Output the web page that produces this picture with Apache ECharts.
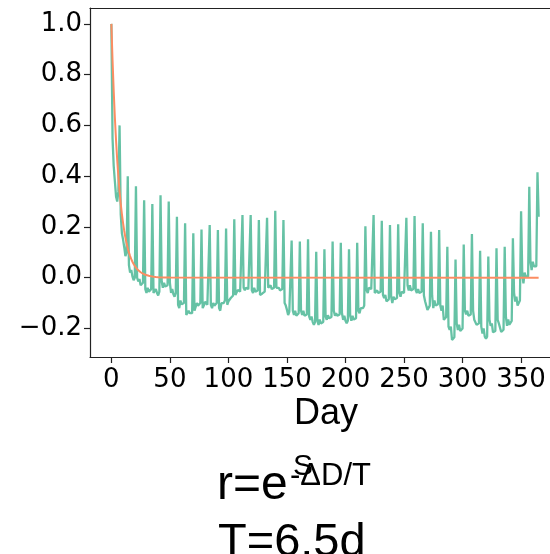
<!DOCTYPE html>
<html>
<head>
<meta charset="utf-8">
<script src="https://cdn.jsdelivr.net/npm/echarts@6/dist/echarts.min.js"></script>
<style>
html,body{margin:0;padding:0;background:#fff;}
#chart{width:550px;height:554px;}
</style>
</head>
<body>
<div id="chart"></div>
<script>
// autocorrelation by day lag (day = index), one row per week
const acf = [
  1.0, 0.55, 0.44, 0.38, 0.32, 0.30, 0.34,
  0.60, 0.25, 0.175, 0.15, 0.12, 0.085, 0.10,
  0.40, 0.05, 0.02, 0.03, 0.005, -0.01, 0.0,
  0.36, 0.0, -0.015, -0.005, -0.03, -0.035, -0.02,
  0.305, -0.045, -0.06, -0.04, -0.055, -0.06, -0.045,
  0.29, -0.06, -0.065, -0.045, -0.06, -0.07, -0.055,
  0.325, -0.015, -0.04, -0.02, -0.035, -0.04, -0.03,
  0.30, -0.02, -0.06, -0.045, -0.065, -0.075, -0.06,
  0.24, -0.107, -0.12, -0.09, -0.105, -0.107, -0.10,
  0.214, -0.147, -0.15, -0.13, -0.14, -0.147, -0.14,
  0.175, -0.13, -0.133, -0.10, -0.11, -0.107, -0.10,
  0.19, -0.12, -0.11, -0.095, -0.10, -0.107, -0.10,
  0.207, -0.107, -0.12, -0.10, -0.11, -0.113, -0.10,
  0.188, -0.12, -0.13, -0.10, -0.10, -0.10, -0.09,
  0.194, -0.107, -0.093, -0.093, -0.08, -0.08, -0.07,
  0.23, -0.068, -0.075, -0.048, -0.055, -0.055, -0.05,
  0.247, -0.04, -0.05, -0.04, -0.045, -0.045, -0.04,
  0.247, -0.05, -0.06, -0.04, -0.055, -0.055, -0.05,
  0.227, -0.068, -0.075, -0.062, -0.06, -0.055, -0.05,
  0.236, -0.04, -0.045, -0.03, -0.045, -0.045, -0.04,
  0.264, -0.04, -0.045, -0.04, -0.05, -0.05, -0.045,
  0.227, -0.10, -0.11, -0.127, -0.147, -0.135, -0.13,
  0.146, -0.13, -0.147, -0.13, -0.15, -0.15, -0.14,
  0.142, -0.13, -0.147, -0.13, -0.15, -0.15, -0.145,
  0.151, -0.153, -0.166, -0.153, -0.175, -0.186, -0.175,
  0.102, -0.17, -0.186, -0.165, -0.18, -0.186, -0.175,
  0.112, -0.153, -0.166, -0.148, -0.16, -0.16, -0.155,
  0.142, -0.13, -0.15, -0.14, -0.15, -0.15, -0.145,
  0.138, -0.14, -0.166, -0.15, -0.17, -0.18, -0.17,
  0.112, -0.15, -0.17, -0.15, -0.165, -0.165, -0.16,
  0.138, -0.13, -0.14, -0.12, -0.12, -0.12, -0.11,
  0.203, -0.05, -0.06, -0.04, -0.045, -0.045, -0.04,
  0.247, -0.06, -0.065, -0.05, -0.06, -0.06, -0.055,
  0.224, -0.068, -0.08, -0.068, -0.093, -0.09, -0.085,
  0.207, -0.075, -0.10, -0.075, -0.085, -0.085, -0.08,
  0.21, -0.06, -0.075, -0.055, -0.06, -0.06, -0.055,
  0.236, -0.03, -0.05, -0.03, -0.05, -0.05, -0.045,
  0.243, -0.05, -0.06, -0.045, -0.06, -0.06, -0.055,
  0.214, -0.07, -0.093, -0.10, -0.127, -0.12, -0.11,
  0.181, -0.07, -0.12, -0.09, -0.11, -0.11, -0.105,
  0.188, -0.11, -0.13, -0.11, -0.166, -0.16, -0.155,
  0.122, -0.193, -0.206, -0.193, -0.245, -0.25, -0.235,
  0.072, -0.18, -0.206, -0.185, -0.21, -0.21, -0.20,
  0.131, -0.13, -0.145, -0.13, -0.15, -0.15, -0.145,
  0.172, -0.13, -0.166, -0.16, -0.186, -0.185, -0.18,
  0.106, -0.193, -0.22, -0.20, -0.232, -0.24, -0.232,
  0.083, -0.166, -0.19, -0.18, -0.215, -0.22, -0.21,
  0.116, -0.166, -0.18, -0.175, -0.214, -0.21, -0.205,
  0.122, -0.153, -0.19, -0.165, -0.185, -0.18, -0.17,
  0.155, -0.06, -0.094, -0.075, -0.11, -0.105, -0.09,
  0.262, 0.017, -0.022, 0.02, 0.005, 0.0, 0.005,
  0.358, 0.063, 0.03, 0.063, 0.045, 0.04, 0.045,
  0.415, 0.24
];

// exponential fit r = e^(-ΔD/T), T = 6.5 d
const fitDays = [0,1,2,3,4,5,6,7,8,9,10,11,12,13,14,15,16,17,18,19,20,21,22,23,24,25,26,27,28,29,30,32,34,36,38,40,45,50,365];
const fitValues = [1.0,0.8574,0.7351,0.6303,0.5404,0.4633,0.3973,0.3406,0.2921,0.2504,0.2147,0.1841,0.1578,0.1353,0.1160,0.0995,0.0853,0.0731,0.0627,0.0538,0.0461,0.0395,0.0339,0.0291,0.0249,0.0214,0.0183,0.0157,0.0135,0.0115,0.0099,0.0073,0.0054,0.0039,0.0029,0.0021,0.0010,0.0005,0.0];

const xTicks = [0, 50, 100, 150, 200, 250, 300, 350];
const yTicks = [-0.2, 0.0, 0.2, 0.4, 0.6, 0.8, 1.0];

const chart = echarts.init(document.getElementById('chart'), null, {renderer: 'canvas'});
const tickFont = 'DejaVu Sans';
const textFont = '"Liberation Sans", Arial, sans-serif';
const spine = {color: '#222', width: 1.2};

chart.setOption({
  animation: false,
  backgroundColor: '#fff',
  grid: {left: 90, top: 8, right: 0, height: 349, show: false},
  xAxis: [{
    type: 'value', min: -18.25, max: 374.7,
    axisLine: {show: true, onZero: false, lineStyle: spine},
    axisTick: {show: true, length: 6, lineStyle: spine, customValues: xTicks},
    axisLabel: {show: true, customValues: xTicks, margin: 10, color: '#000', fontFamily: tickFont, fontSize: 26,
      formatter: v => String(Math.round(v))},
    splitLine: {show: false}
  }, {
    type: 'value', position: 'top', min: -18.25, max: 374.7,
    axisLine: {show: true, onZero: false, lineStyle: spine},
    axisTick: {show: false}, axisLabel: {show: false}, splitLine: {show: false}
  }],
  yAxis: {
    type: 'value', min: -0.3125, max: 1.0625,
    axisLine: {show: true, onZero: false, lineStyle: spine},
    axisTick: {show: true, length: 6, lineStyle: spine, customValues: yTicks},
    axisLabel: {show: true, customValues: yTicks, margin: 8, color: '#000', fontFamily: tickFont, fontSize: 26,
      formatter: v => (Math.round(v * 10) / 10).toFixed(1).replace('-', '\u2212')},
    splitLine: {show: false}
  },
  series: [
    {type: 'line', xAxisIndex: 0, data: acf.map((v, i) => [i, v]), showSymbol: false, symbol: 'none',
      lineStyle: {color: '#66c2a5', width: 2.3}, clip: true, z: 2},
    {type: 'line', xAxisIndex: 0, data: fitDays.map((d, i) => [d, fitValues[i]]), showSymbol: false, symbol: 'none',
      lineStyle: {color: '#fc8d62', width: 2}, clip: true, z: 3}
  ],
  graphic: [
    {type: 'text', x: 326, y: 414, style: {text: 'Day', font: '36px ' + textFont, fill: '#000', align: 'center', verticalAlign: 'middle'}},
    {type: 'text', x: 217, y: 486, style: {text: 'r=e', font: '48px ' + textFont, fill: '#000', align: 'left', verticalAlign: 'middle'}},
    {type: 'text', x: 290, y: 476, style: {text: '-\u0394D/T', font: '31px ' + textFont, fill: '#000', align: 'left', verticalAlign: 'middle'}},
    {type: 'text', x: 293, y: 467, style: {text: 'S', font: '30px ' + textFont, fill: '#000', align: 'left', verticalAlign: 'middle'}},
    {type: 'text', x: 218, y: 543, style: {text: 'T=6.5d', font: '47px ' + textFont, fill: '#000', align: 'left', verticalAlign: 'middle'}}
  ]
});
</script>
</body>
</html>
